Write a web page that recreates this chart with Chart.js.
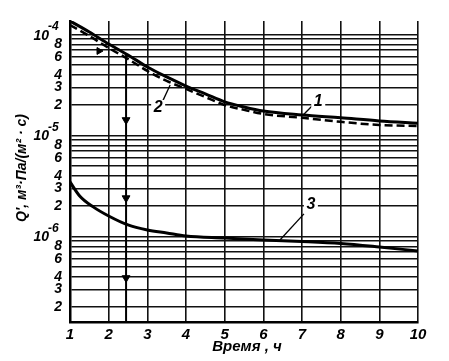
<!DOCTYPE html>
<html><head><meta charset="utf-8">
<script src="https://cdn.jsdelivr.net/npm/chart.js@4.4.0/dist/chart.umd.min.js"></script>
<style>html,body{margin:0;padding:0;background:#fff}</style>
</head><body>
<canvas id="c" width="449" height="361"></canvas>
<script>
// ---- data ----
const times12 = [1, 1.5, 2, 2.5, 3, 3.5, 4, 4.5, 5, 5.5, 6, 7, 8, 9, 10];
const curve1 = [1.365e-4, 1.063e-4, 8.08e-5, 6.29e-5, 4.78e-5, 3.81e-5, 3.10e-5, 2.59e-5, 2.16e-5, 1.92e-5, 1.75e-5, 1.60e-5, 1.50e-5, 1.40e-5, 1.33e-5];
const curve2 = [1.246e-4, 9.70e-5, 7.38e-5, 5.74e-5, 4.37e-5, 3.48e-5, 2.90e-5, 2.41e-5, 2.01e-5, 1.80e-5, 1.64e-5, 1.50e-5, 1.37e-5, 1.275e-5, 1.247e-5];
const times3 = [1, 1.25, 1.6, 2, 2.5, 3, 3.5, 4, 5, 6, 7, 8, 9, 10];
const curve3 = [3.48e-6, 2.53e-6, 1.97e-6, 1.60e-6, 1.305e-6, 1.164e-6, 1.087e-6, 1.015e-6, 9.70e-7, 9.27e-7, 8.96e-7, 8.56e-7, 7.90e-7, 7.21e-7];
const xTicks = [1, 2, 3, 4, 5, 6, 7, 8, 9, 10];
const yMin = 1.428e-7, yMax = 1.365e-4;
const yLabelMantissas = [2, 3, 4, 6, 8];
const yDecades = [1e-4, 1e-5, 1e-6];
const yDecadeExp = ['-4', '-5', '-6'];
// vertical reading line with arrowheads
const arrowT = 2.45;
const arrowTopV = 6.4e-5;
const arrowHeadsV = [1.43e-5, 2.41e-6, 3.90e-7];
const hArrowT = 1.75, hArrowV = 6.89e-5;
// curve labels
const curveLabels = ['1', '2', '3'];
const labelT = [7.42, 3.28, 7.23];
const labelV = [2.16e-5, 1.88e-5, 2.06e-6];
const leaderStart = [[7.03, 1.60e-5], [3.59, 3.18e-5], [6.43, 9.27e-7]];
const leaderEnd = [[7.31, 2.06e-5], [3.40, 2.21e-5], [7.05, 1.68e-6]];
const xTitle = 'Время , ч';
const yTitle = "Q', м³·Па/(м² · с)";

const FONT = "'Liberation Sans Narrow', 'Liberation Sans', sans-serif";
const pts = (xs, ys) => xs.map((x, i) => ({x: x, y: ys[i]}));

const datasets = [
  {data: pts(times12, curve1), borderColor: '#000', borderWidth: 3, pointRadius: 0, cubicInterpolationMode: 'monotone', fill: false},
  {data: pts(times12, curve2), borderColor: '#000', borderWidth: 2.5, borderDash: [8, 4], pointRadius: 0, cubicInterpolationMode: 'monotone', fill: false},
  {data: pts(times3, curve3), borderColor: '#000', borderWidth: 3, pointRadius: 0, cubicInterpolationMode: 'monotone', fill: false},
  {data: [{x: arrowT, y: arrowTopV}, {x: arrowT, y: yMin}], borderColor: '#000', borderWidth: 2, pointRadius: 0},
  {data: arrowHeadsV.map(v => ({x: arrowT, y: v})), showLine: false, pointStyle: 'triangle', rotation: 180, pointRadius: 4.5, backgroundColor: '#000', borderColor: '#000', borderWidth: 1},
  {data: [{x: hArrowT, y: hArrowV}], showLine: false, pointStyle: 'triangle', rotation: 90, pointRadius: 4, backgroundColor: '#000', borderColor: '#000', borderWidth: 1}
];
leaderStart.forEach((s, i) => {
  datasets.push({data: [{x: s[0], y: s[1]}, {x: leaderEnd[i][0], y: leaderEnd[i][1]}], borderColor: '#000', borderWidth: 1.3, pointRadius: 0});
});

const textPlugin = {
  id: 'texts',
  afterDraw(chart) {
    const ctx = chart.ctx, xs = chart.scales.x, ys = chart.scales.y;
    ctx.save();
    ctx.fillStyle = '#000';
    // decade labels
    yDecades.forEach((v, i) => {
      const py = ys.getPixelForValue(v);
      ctx.font = "italic bold 14px " + FONT;
      ctx.textAlign = 'right'; ctx.textBaseline = 'middle';
      ctx.fillText('10', 49, py + 1);
      ctx.font = "italic bold 12px " + FONT;
      ctx.textAlign = 'left';
      ctx.fillText(yDecadeExp[i], 48, py - 8);
    });
    // curve labels
    curveLabels.forEach((t, i) => {
      const px = xs.getPixelForValue(labelT[i]), py = ys.getPixelForValue(labelV[i]);
      ctx.fillStyle = '#fff';
      ctx.fillRect(px - 7, py - 8, 14, 16);
      ctx.fillStyle = '#000';
      ctx.font = "italic bold 16px " + FONT;
      ctx.textAlign = 'center'; ctx.textBaseline = 'middle';
      ctx.fillText(t, px, py);
    });
    // x title
    ctx.font = "italic bold 15px " + FONT;
    ctx.textAlign = 'center'; ctx.textBaseline = 'middle';
    ctx.fillText(xTitle, 247, 347);
    // y title
    ctx.translate(22, 168);
    ctx.rotate(-Math.PI / 2);
    ctx.font = "italic bold 14px " + FONT;
    ctx.fillText(yTitle, 0, 0);
    ctx.restore();
  }
};

new Chart(document.getElementById('c'), {
  type: 'line',
  data: {datasets: datasets},
  plugins: [textPlugin],
  options: {
    responsive: false, animation: false, devicePixelRatio: 1,
    layout: {padding: {top: 21, right: 31, left: 0, bottom: 0}},
    plugins: {legend: {display: false}, tooltip: {enabled: false}},
    scales: {
      x: {
        type: 'linear', min: 1, max: 10,
        afterBuildTicks: s => { s.ticks = xTicks.map(v => ({value: v})); },
        afterFit: s => { s.height = 39; },
        ticks: {color: '#000', padding: 4, font: {family: FONT, size: 15, style: 'italic', weight: 'bold'}, autoSkip: false, maxRotation: 0},
        grid: {color: '#111', lineWidth: 1.6, drawTicks: false},
        border: {color: '#000', width: 2.5}
      },
      y: {
        type: 'logarithmic', min: yMin, max: yMax,
        afterBuildTicks: s => {
          const t = [];
          for (let e = -7; e <= -4; e++) for (let m = 1; m <= 9; m++) {
            const v = m * Math.pow(10, e);
            if (v >= yMin * 1.0001 && v <= yMax * 1.0001) t.push({value: v});
          }
          s.ticks = t;
        },
        afterFit: s => { s.width = 70; },
        ticks: {
          color: '#000', padding: 8, autoSkip: false,
          font: {family: FONT, size: 14, style: 'italic', weight: 'bold'},
          callback: v => {
            const e = Math.floor(Math.log10(v) + 1e-9);
            const m = Math.round(v / Math.pow(10, e));
            return yLabelMantissas.includes(m) ? String(m) : '';
          }
        },
        grid: {color: '#111', lineWidth: 1.6, drawTicks: false},
        border: {color: '#000', width: 2.5}
      }
    }
  }
});
</script>
</body></html>
